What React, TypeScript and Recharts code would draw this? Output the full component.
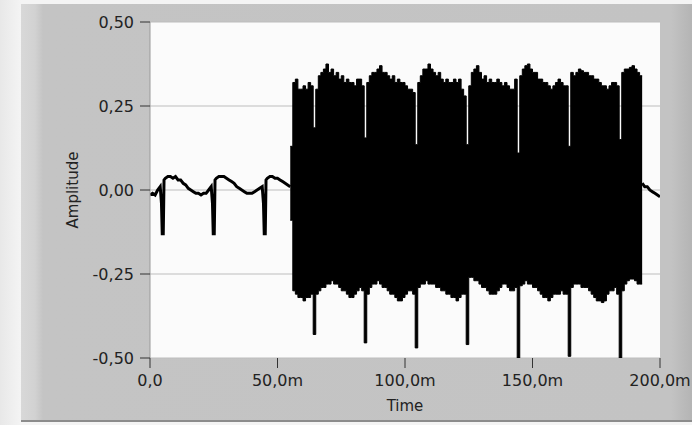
import React from "react";
import { ComposedChart, Line, Area, XAxis, YAxis, CartesianGrid, Label } from "recharts";

// ---- Data ----
const xTicks = [0, 50, 100, 150, 200];
const xTickLabels = ["0,0", "50,0m", "100,0m", "150,0m", "200,0m"];
const yTicks = [-0.5, -0.25, 0, 0.25, 0.5];
const yTickLabels = ["-0,50", "-0,25", "0,00", "0,25", "0,50"];

// quiet signal before the burst: [time ms, amplitude]
const quietStartT = [0, 1, 2, 3, 4, 4.5, 4.8, 5.2, 5.5, 6, 7, 8, 9, 10, 11, 12, 13, 14, 15, 16, 17, 18, 19, 20, 21, 22, 23, 24, 24.5, 24.8, 25.2, 25.5, 26, 27, 28, 29, 30, 31, 32, 33, 34, 35, 36, 37, 38, 39, 40, 41, 42, 43, 44, 44.5, 44.8, 45.2, 45.5, 46, 47, 48, 49, 50, 51, 52, 53, 54, 55];
const quietStartV = [-0.015, -0.01, -0.015, 0.0, 0.01, -0.04, -0.13, -0.13, 0.03, 0.035, 0.04, 0.04, 0.035, 0.04, 0.03, 0.03, 0.02, 0.015, 0.005, 0.0, -0.005, -0.01, -0.01, -0.015, -0.01, -0.01, 0.0, 0.01, -0.04, -0.13, -0.13, 0.03, 0.035, 0.04, 0.04, 0.04, 0.035, 0.03, 0.025, 0.02, 0.01, 0.005, 0.0, -0.005, -0.01, -0.01, -0.01, -0.005, 0.0, 0.005, 0.01, -0.04, -0.13, -0.13, 0.03, 0.035, 0.04, 0.04, 0.035, 0.035, 0.03, 0.025, 0.02, 0.015, 0.01];

// quiet signal after the burst
const quietEndT = [193, 193.5, 194, 195, 196, 197, 198, 199, 200];
const quietEndV = [0.02, 0.015, 0.01, 0.01, 0.0, -0.005, -0.01, -0.015, -0.02];

// burst envelope, one value per ms from 55 to 193
const burstStartT = 55;
const burstHigh = [
  0.13, 0.32, 0.33, 0.30, 0.30, 0.31, 0.30, 0.32, 0.31, 0.185,
  0.30, 0.34, 0.35, 0.36, 0.375, 0.35, 0.36, 0.34, 0.35, 0.33,
  0.34, 0.32, 0.33, 0.32, 0.32, 0.31, 0.33, 0.33, 0.31, 0.155,
  0.32, 0.34, 0.35, 0.35, 0.36, 0.37, 0.35, 0.35, 0.34, 0.33,
  0.34, 0.32, 0.33, 0.32, 0.32, 0.31, 0.30, 0.30, 0.29, 0.135,
  0.32, 0.34, 0.36, 0.36, 0.375, 0.36, 0.35, 0.34, 0.35, 0.33,
  0.32, 0.33, 0.32, 0.32, 0.33, 0.32, 0.33, 0.30, 0.28, 0.135,
  0.31, 0.35, 0.36, 0.37, 0.35, 0.33, 0.34, 0.32, 0.33, 0.32,
  0.32, 0.33, 0.32, 0.31, 0.32, 0.31, 0.30, 0.30, 0.33, 0.11,
  0.34, 0.36, 0.37, 0.375, 0.36, 0.35, 0.35, 0.33, 0.33, 0.32,
  0.32, 0.31, 0.30, 0.31, 0.32, 0.33, 0.32, 0.31, 0.31, 0.13,
  0.35, 0.34, 0.35, 0.36, 0.355, 0.35, 0.35, 0.34, 0.34, 0.33,
  0.33, 0.32, 0.31, 0.31, 0.30, 0.31, 0.32, 0.32, 0.31, 0.15,
  0.35, 0.36, 0.36, 0.365, 0.37, 0.36, 0.35, 0.34, 0.34,
];
const burstLow = [
  -0.09, -0.30, -0.31, -0.32, -0.32, -0.33, -0.32, -0.32, -0.31, -0.43,
  -0.31, -0.30, -0.29, -0.29, -0.28, -0.28, -0.27, -0.28, -0.28, -0.29,
  -0.30, -0.30, -0.31, -0.32, -0.32, -0.31, -0.30, -0.29, -0.30, -0.455,
  -0.31, -0.29, -0.28, -0.28, -0.27, -0.28, -0.29, -0.29, -0.30, -0.31,
  -0.31, -0.32, -0.33, -0.33, -0.32, -0.31, -0.30, -0.30, -0.31, -0.47,
  -0.29, -0.28, -0.28, -0.27, -0.28, -0.28, -0.28, -0.29, -0.29, -0.30,
  -0.30, -0.31, -0.31, -0.32, -0.32, -0.33, -0.32, -0.31, -0.31, -0.46,
  -0.26, -0.26, -0.27, -0.27, -0.28, -0.29, -0.29, -0.30, -0.31, -0.31,
  -0.31, -0.30, -0.29, -0.28, -0.28, -0.29, -0.30, -0.30, -0.29, -0.50,
  -0.285, -0.28, -0.27, -0.28, -0.28, -0.29, -0.29, -0.30, -0.31, -0.32,
  -0.32, -0.33, -0.32, -0.31, -0.31, -0.31, -0.30, -0.31, -0.31, -0.495,
  -0.29, -0.28, -0.28, -0.28, -0.29, -0.29, -0.29, -0.30, -0.31, -0.32,
  -0.33, -0.33, -0.335, -0.33, -0.31, -0.30, -0.30, -0.29, -0.31, -0.50,
  -0.30, -0.28, -0.27, -0.265, -0.265, -0.27, -0.28, -0.28, -0.28,
];

const quietStart = quietStartT.map((t, i) => ({ t, v: quietStartV[i] }));
const quietEnd = quietEndT.map((t, i) => ({ t, v: quietEndV[i] }));
const burst = burstHigh.map((hi, i) => ({ t: burstStartT + i, range: [burstLow[i], hi] }));

const FONT = "'DejaVu Sans', sans-serif";

const xLabel = (v: number) => xTickLabels[xTicks.indexOf(v)] ?? String(v);
const yLabel = (v: number) => {
  const idx = yTicks.findIndex((t) => Math.abs(t - v) < 1e-9);
  return idx >= 0 ? yTickLabels[idx] : String(v);
};

export default function App() {
  return (
    <div style={{ position: "absolute", left: 0, top: 0, width: 692, height: 425, background: "linear-gradient(to right, #e8e8e8 0px, #f4f4f4 21px)", overflow: "hidden" }}>
      {/* grey graph panel */}
      <div style={{ position: "absolute", left: 21, top: 4, width: 671, height: 418, background: "linear-gradient(to right, #d8d8d8 0px, #d2d2d2 14px, #c4c4c4 22px, #c3c3c3 650px, #b4b4b4 671px)", borderBottom: "2px solid #8c8c8c", boxSizing: "border-box" }} />
      <div style={{ position: "absolute", left: 0, top: 0 }}>
        <ComposedChart width={692} height={425} margin={{ top: 22, right: 32, bottom: 7, left: 0 }}>
          <CartesianGrid vertical={false} horizontal stroke="#bdbdbd" fill="#fbfbfb" horizontalValues={yTicks} />
          <XAxis
            type="number"
            dataKey="t"
            domain={[0, 200]}
            ticks={xTicks}
            allowDataOverflow
            height={60}
            axisLine={false}
            tickLine={{ stroke: "#333" }}
            tickSize={10}
            tickMargin={7}
            tickFormatter={xLabel}
            tick={{ fill: "#222", fontSize: 16, fontFamily: FONT }}
            interval={0}
          >
            <Label value="Time" position="insideBottom" offset={7} style={{ fill: "#222", fontSize: 15, fontFamily: FONT }} />
          </XAxis>
          <YAxis
            type="number"
            domain={[-0.5, 0.5]}
            ticks={yTicks}
            allowDataOverflow
            width={150}
            axisLine={{ stroke: "#9a9a9a" }}
            tickLine={{ stroke: "#333" }}
            tickSize={10}
            tickMargin={6}
            tickFormatter={yLabel}
            tick={{ fill: "#222", fontSize: 16, fontFamily: FONT }}
            interval={0}
          >
            <Label
              content={(props: any) => {
                const vb = props.viewBox || { x: 0, y: 22, width: 150, height: 336 };
                const cx = vb.x + 73;
                const cy = vb.y + vb.height / 2;
                return (
                  <text x={cx} y={cy} transform={`rotate(-90 ${cx} ${cy})`} textAnchor="middle" dominantBaseline="central" fill="#222" fontSize={15} fontFamily={FONT}>
                    Amplitude
                  </text>
                );
              }}
            />
          </YAxis>
          <Area
            data={burst}
            dataKey="range"
            type="stepAfter"
            stroke="#000"
            strokeWidth={1}
            fill="#000"
            fillOpacity={1}
            isAnimationActive={false}
            dot={false}
            activeDot={false}
          />
          <Line data={quietStart} dataKey="v" type="linear" stroke="#000" strokeWidth={3} dot={false} activeDot={false} isAnimationActive={false} />
          <Line data={quietEnd} dataKey="v" type="linear" stroke="#000" strokeWidth={3} dot={false} activeDot={false} isAnimationActive={false} />
        </ComposedChart>
      </div>
    </div>
  );
}
